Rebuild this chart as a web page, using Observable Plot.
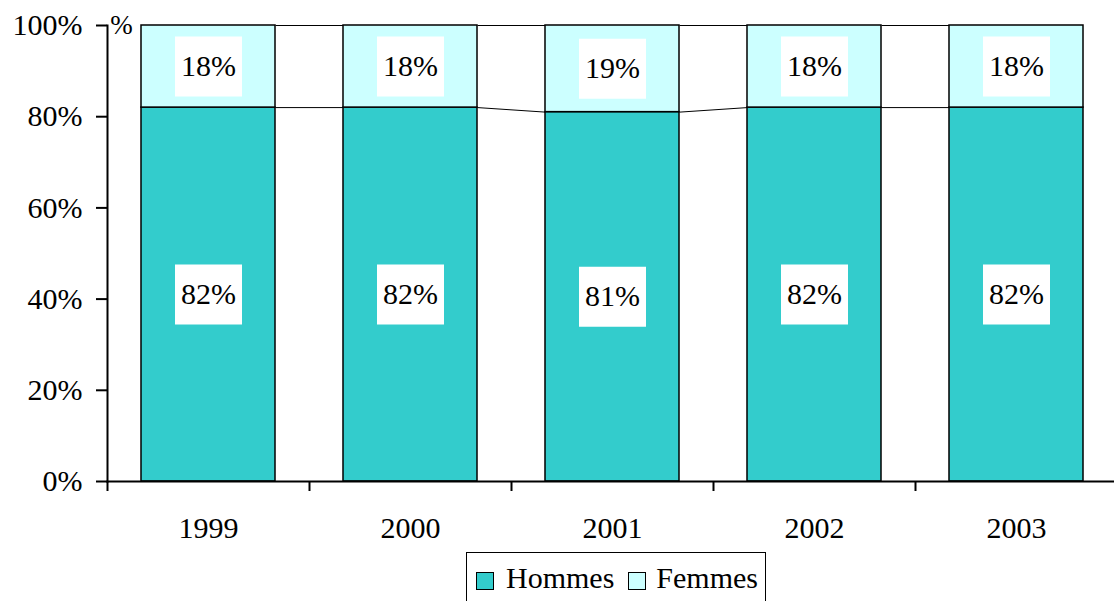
<!DOCTYPE html>
<html>
<head>
<meta charset="utf-8">
<script src="https://cdn.jsdelivr.net/npm/d3@7"></script>
<script src="https://cdn.jsdelivr.net/npm/@observablehq/plot@0.6"></script>
<style>
  html, body { margin: 0; padding: 0; background: #fff; overflow: hidden; }
  #chart { position: relative; width: 1114px; height: 601px; font-family: 'Liberation Serif', serif; }
  #chart svg, #chart svg text { font-family: 'Liberation Serif', serif !important; }
  .legend {
    position: absolute; left: 466px; top: 552px; width: 298px; height: 50px;
    border: 1px solid #000; background: #fff; box-sizing: content-box;
    display: flex; align-items: center;
    font-family: 'Liberation Serif', serif; font-size: 30px; color: #000;
  }
  .sw { width: 16px; height: 16px; border: 1px solid #000; display: inline-block; margin-top: 6px; }
</style>
</head>
<body>
<div id="chart"></div>
<script>
const years = [1999, 2000, 2001, 2002, 2003];
const hommes = [82, 82, 81, 82, 82];
const femmes = [18, 18, 19, 18, 18];
const seriesNames = ["Hommes", "Femmes"];
const seriesColors = ["#33CCCC", "#CCFFFF"];
const yTicks = [0, 20, 40, 60, 80, 100];

const hw = 0.3317; // half bar width in band units
const idx = years.map((_, i) => i);

const rows = [];
years.forEach((yr, i) => {
  rows.push({i, year: yr, series: "Hommes", y1: 0, y2: hommes[i], v: hommes[i]});
  rows.push({i, year: yr, series: "Femmes", y1: hommes[i], y2: hommes[i] + femmes[i], v: femmes[i]});
});

const links = [];
for (let i = 0; i < years.length - 1; i++) {
  links.push({x1: i + hw, x2: i + 1 - hw, y1: hommes[i], y2: hommes[i + 1]});
  links.push({x1: i + hw, x2: i + 1 - hw, y1: hommes[i] + femmes[i], y2: hommes[i + 1] + femmes[i + 1]});
}

const boxSymbol = { draw(ctx) { ctx.rect(-33.5, -30, 67, 60); } };

const chart = Plot.plot({
  width: 1114,
  height: 552,
  marginTop: 25,
  marginLeft: 107,
  marginRight: 0,
  marginBottom: 71,
  style: "font-family: 'Liberation Serif', serif; font-size: 30px; color: #000; background: transparent; overflow: visible;",
  x: { type: "linear", domain: [-0.5, years.length - 0.5], range: [107, 1117] },
  y: { domain: [0, 100] },
  color: { domain: seriesNames, range: seriesColors },
  marks: [
    Plot.link(links, {x1: "x1", x2: "x2", y1: "y1", y2: "y2", stroke: "#000", strokeWidth: 1}),
    Plot.rect(rows, {x1: d => d.i - hw, x2: d => d.i + hw, y1: "y1", y2: "y2", fill: "series", stroke: "#000", strokeWidth: 1.5}),
    Plot.dot(rows, {x: "i", y: d => (d.y1 + d.y2) / 2, symbol: boxSymbol, fill: "#fff", stroke: "none"}),
    Plot.text(rows, {x: "i", y: d => (d.y1 + d.y2) / 2, text: d => d.v + "%", fill: "#000", fontSize: 30, fontFamily: "Liberation Serif"}),
    Plot.frame({anchor: "left", stroke: "#000", strokeWidth: 2}),
    Plot.frame({anchor: "bottom", stroke: "#000", strokeWidth: 2}),
    Plot.axisY({ticks: yTicks, tickFormat: d => d + "%", tickSize: 11, tickPadding: 14, label: null, strokeWidth: 2, fontFamily: "Liberation Serif"}),
    Plot.axisX({ticks: idx, tickFormat: i => String(years[i]), tickSize: 0, tickPadding: 35, label: null, fontFamily: "Liberation Serif"}),
    Plot.axisX({ticks: idx.concat([years.length]).map(i => i - 0.5), tickFormat: () => "", tickSize: 10, label: null, strokeWidth: 2}),
    Plot.text(["%"], {frameAnchor: "top-left", dx: 14, dy: 8, lineAnchor: "bottom", textAnchor: "middle", fontSize: 27, fill: "#000", fontFamily: "Liberation Serif"})
  ]
});

const root = document.getElementById("chart");
root.appendChild(chart);

const legend = document.createElement("div");
legend.className = "legend";
legend.innerHTML =
  `<span class="sw" style="background:${seriesColors[0]};margin-left:9px"></span>` +
  `<span style="margin-left:12px">${seriesNames[0]}</span>` +
  `<span class="sw" style="background:${seriesColors[1]};margin-left:14px"></span>` +
  `<span style="margin-left:10px">${seriesNames[1]}</span>`;
root.appendChild(legend);
</script>
</body>
</html>
